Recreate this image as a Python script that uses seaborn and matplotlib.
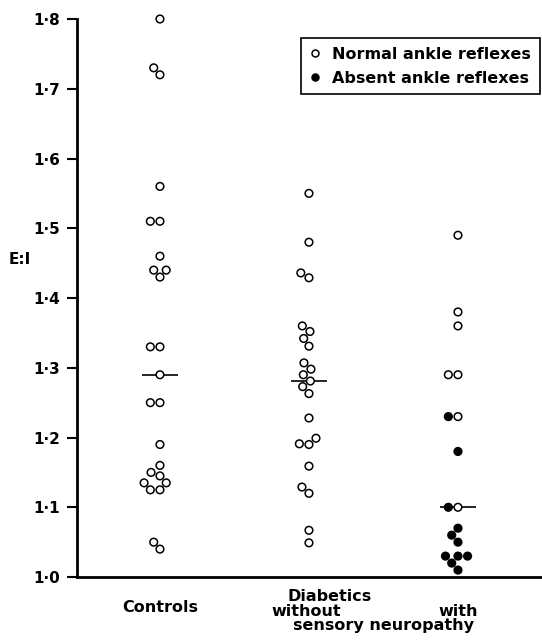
import numpy as np
import pandas as pd
import seaborn as sns
import matplotlib.pyplot as plt
from matplotlib.lines import Line2D

# E:I ratios
controls_normal = [1.80, 1.73, 1.72, 1.56, 1.51, 1.51, 1.46, 1.44, 1.44, 1.43,
                   1.33, 1.33, 1.29, 1.25, 1.25, 1.19, 1.16, 1.15, 1.145,
                   1.135, 1.135, 1.125, 1.125, 1.05, 1.04]
without_normal = [1.55, 1.48, 1.436, 1.429, 1.360, 1.352, 1.342, 1.331,
                  1.307, 1.298, 1.290, 1.281, 1.273, 1.263, 1.228, 1.199,
                  1.191, 1.19, 1.159, 1.129, 1.12, 1.067, 1.049]
with_normal = [1.49, 1.38, 1.36, 1.29, 1.29, 1.23, 1.10]
with_absent = [1.23, 1.18, 1.10, 1.07, 1.06, 1.05, 1.03, 1.03, 1.03, 1.02, 1.01]

groups = ["Controls", "without", "with"]
yticks = [1.0, 1.1, 1.2, 1.3, 1.4, 1.5, 1.6, 1.7, 1.8]
ytick_labels = ["1·0", "1·1", "1·2", "1·3", "1·4", "1·5", "1·6", "1·7", "1·8"]
legend_labels = ["Normal ankle reflexes", "Absent ankle reflexes"]

rows = []
for g, vals, r in [("Controls", controls_normal, "Normal"),
                   ("without", without_normal, "Normal"),
                   ("with", with_normal, "Normal"),
                   ("with", with_absent, "Absent")]:
    for v in vals:
        rows.append({"group": g, "ei": v, "reflex": r})
df = pd.DataFrame(rows)

sns.set_style("white")
plt.rcParams['font.family'] = ['DejaVu Sans']
plt.rcParams['text.color'] = 'black'
plt.rcParams['ytick.color'] = 'black'
plt.rcParams['xtick.color'] = 'black'
plt.rcParams['font.weight'] = 'bold'

fig = plt.figure(figsize=(5.42, 6.42), dpi=100)
ax = fig.add_axes([0.142, 0.1012, 0.858, 0.8692])

sns.swarmplot(data=df, x="group", y="ei", hue="reflex", order=groups,
              hue_order=["Normal", "Absent"],
              palette={"Normal": "white", "Absent": "black"},
              size=5.5, edgecolor="black", linewidth=1.1, legend=False,
              ax=ax, clip_on=False, zorder=3)

# median bars
meds = df.groupby("group")["ei"].median().reindex(groups).values
pos = np.arange(len(groups))
ax.hlines(meds, pos - 0.12, pos + 0.12, color="black", lw=1.2, zorder=2)

ax.set_xlim(-0.557, 2.564)
ax.set_ylim(1.0, 1.8)
ax.set_yticks(yticks)
ax.set_yticklabels(ytick_labels, fontsize=11, fontweight="bold")
ax.tick_params(axis="y", direction="out", length=7, width=1.5, left=True, pad=5)
ax.set_xticks([])
ax.set_xlabel("")
ax.set_ylabel("")

for s in ["top", "right"]:
    ax.spines[s].set_visible(False)
for s in ["left", "bottom"]:
    ax.spines[s].set_linewidth(2)
    ax.spines[s].set_color("black")

ax.text(-0.122, 1.455, "E:I", transform=ax.get_yaxis_transform(),
        ha="center", va="center", fontsize=11, fontweight="bold")

xt = ax.get_xaxis_transform()
kw = dict(transform=xt, ha="center", va="center", fontsize=11.5, fontweight="bold")
ax.text(0, -0.0538, "Controls", **kw)
ax.text(1.14, -0.034, "Diabetics", **kw)
ax.text(0.98, -0.061, "without", **kw)
ax.text(2.0, -0.061, "with", **kw)
ax.text(1.50, -0.086, "sensory neuropathy", **kw)

handles = [Line2D([], [], marker="o", ls="", mfc="white", mec="black", ms=5, mew=1.1),
           Line2D([], [], marker="o", ls="", mfc="black", mec="black", ms=5, mew=1.1)]
leg = ax.legend(handles, legend_labels, loc="upper right",
                bbox_to_anchor=(0.996, 0.966), frameon=True,
                prop={"size": 11.5, "weight": "bold"},
                fancybox=False, framealpha=1, edgecolor="black",
                borderpad=0.55, handletextpad=0.8, handlelength=0.6,
                labelspacing=0.55, borderaxespad=0)
leg.get_frame().set_linewidth(1.2)

fig.savefig("out.png", dpi=100)
